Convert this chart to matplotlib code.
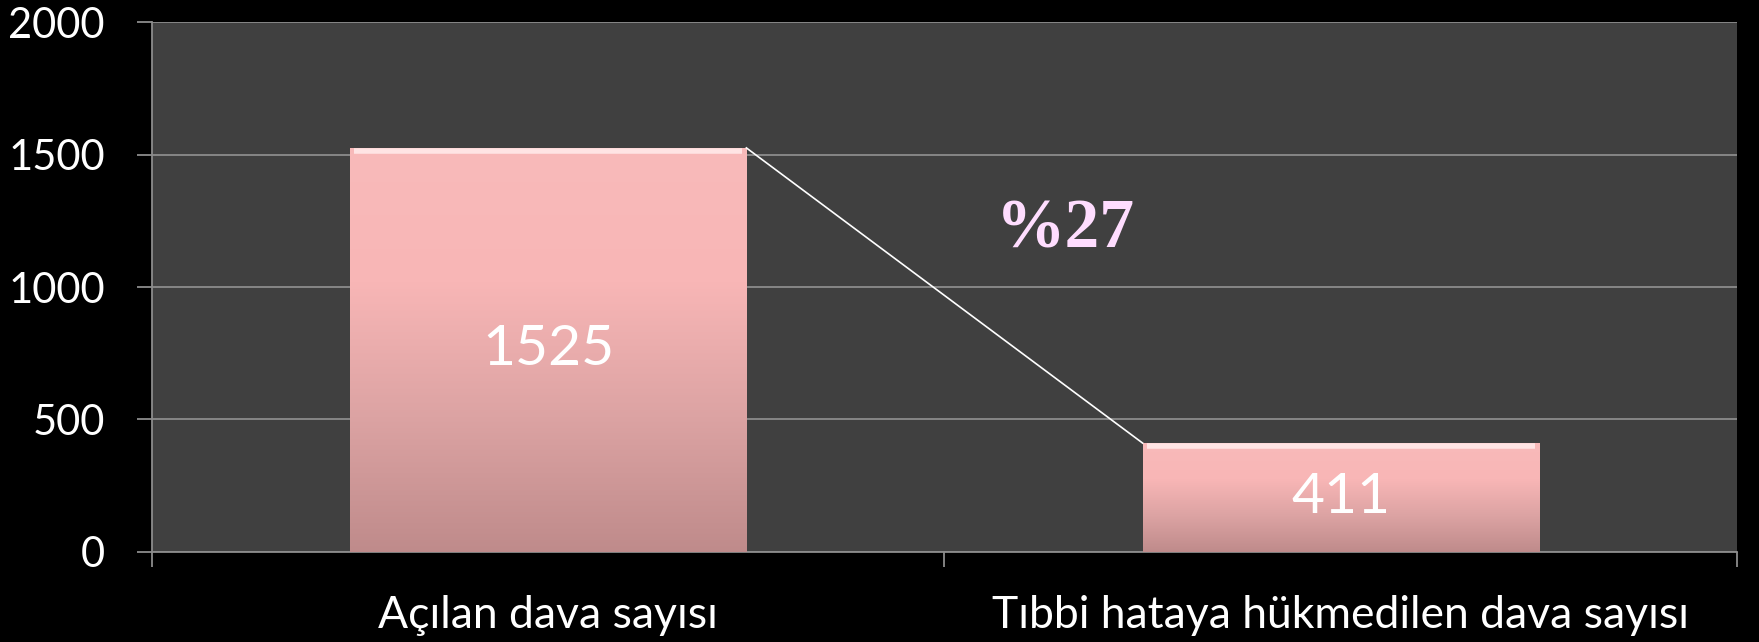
import numpy as np
import matplotlib.pyplot as plt
from matplotlib.colors import LinearSegmentedColormap

categories = ["Açılan dava sayısı", "Tıbbi hataya hükmedilen dava sayısı"]
values = [1525, 411]
yticks = [0, 500, 1000, 1500, 2000]
oran = "%27"

plt.rcParams['font.family'] = ['Lato', 'DejaVu Sans']

fig = plt.figure(figsize=(17.59, 6.42), dpi=100, facecolor='black')
ax = fig.add_axes([0.0864, 0.1402, 0.9011, 0.8255])
ax.set_facecolor('#404040')

x = np.arange(len(categories))
genislik = 0.5
bars = ax.bar(x, values, width=genislik, color='none', edgecolor='none', zorder=3)

# pembe gradyan
cmap = LinearSegmentedColormap.from_list('pembe', ['#bf8b8b', '#dca3a3', '#f8b6b6', '#f9baba'])
grad = np.linspace(0, 1, 256).reshape(-1, 1)
for b in bars:
    x0, y0 = b.get_x(), b.get_y()
    w, h = b.get_width(), b.get_height()
    im = ax.imshow(grad, cmap=cmap, aspect='auto', origin='lower',
                   extent=[x0, x0 + w, y0, y0 + h], zorder=3)
    im.set_clip_path(b)
    # üst parlak kenar
    ax.plot([x0 + 0.005, x0 + w - 0.005], [y0 + h - 10, y0 + h - 10], color='#ffe4e4', lw=4,
            zorder=4, solid_capstyle='butt')
    ax.text(x0 + w / 2, y0 + h / 2, str(int(h)), color='white', fontsize=41,
            ha='center', va='center', zorder=5)

# çubuk tepeleri arasındaki çizgi
ax.plot([x[0] + genislik / 2, x[1] - genislik / 2], [values[0], values[1]],
        color='white', lw=1.2, zorder=4)
ax.text(0.653, 1215, oran, color='#ffddff', fontsize=50, fontweight='bold',
        family='Liberation Serif', ha='center', va='center', zorder=5)

ax.set_xlim(-0.5, 1.5)
ax.set_ylim(0, 2000)
ax.set_yticks(yticks)
ax.set_yticklabels([str(t) for t in yticks])
ax.yaxis.grid(True, color='#8c8c8c', lw=1.3)
ax.set_axisbelow(True)

ax.set_xticks([-0.5, 0.5, 1.5])
ax.set_xticklabels([])
ax.set_xticks(x, minor=True)
ax.set_xticklabels(categories, minor=True)
ax.tick_params(axis='x', which='minor', length=0, pad=31, labelsize=32, labelcolor='white')
ax.tick_params(axis='x', which='major', length=11, width=1.3, color='#8c8c8c', direction='out')
ax.tick_params(axis='y', length=11, width=1.3, color='#8c8c8c', pad=23, labelsize=30, labelcolor='white')

for s in ['top', 'right']:
    ax.spines[s].set_visible(False)
for s in ['left', 'bottom']:
    ax.spines[s].set_color('#8c8c8c')
    ax.spines[s].set_linewidth(1.3)

fig.savefig('out.png', dpi=100, facecolor='black')
